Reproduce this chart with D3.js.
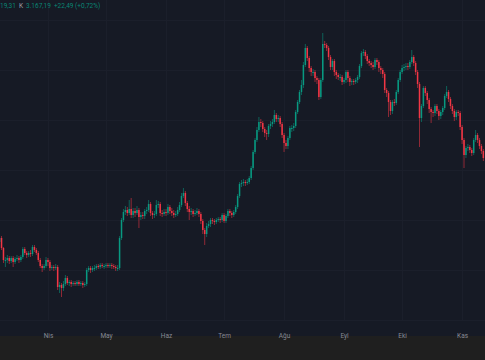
<!DOCTYPE html>
<html><head><meta charset="utf-8">
<script src="https://cdn.jsdelivr.net/npm/d3@7"></script>
<style>html,body{margin:0;padding:0;background:#1f1f1f;overflow:hidden}svg{display:block}</style>
</head><body>
<svg id="chart" width="485" height="360"></svg>
<script>
// ---------------- data ----------------
const startDate = "2024-03-07";
const endDate = "2024-11-13";
const monthTicks = ["2024-04-01","2024-05-01","2024-06-01","2024-07-01","2024-08-01","2024-09-01","2024-10-01","2024-11-01"];
const monthLabels = ["Nis","May","Haz","Tem","Ağu","Eyl","Eki","Kas"];
const firstOpen = 2280;
const closes = [2320,2220,2100,2100,2120,2090,2120,2080,2110,2120,2100,2130,2210,2170,2150,2170,2160,2230,2200,2170,
2100,2040,2020,2040,2100,2080,2020,2030,2020,2030,1830,1850,1820,1860,1920,1870,1880,1860,1870,1860,
1880,1860,1870,1850,1860,2000,2020,2000,2020,2020,2040,2030,2050,2040,2040,2050,2040,2050,2040,2030,
2020,2020,2320,2500,2580,2600,2570,2610,2550,2590,2570,2600,2530,2550,2540,2590,2600,2660,2570,2550,
2560,2650,2660,2570,2560,2580,2570,2630,2590,2570,2550,2560,2600,2650,2740,2770,2670,2610,2580,2590,
2560,2570,2590,2560,2490,2400,2360,2440,2460,2500,2490,2480,2500,2510,2500,2550,2490,2540,2590,2570,
2550,2580,2630,2740,2860,2870,2880,2870,2880,2920,3020,3180,3300,3400,3480,3470,3410,3370,3360,3440,
3460,3480,3550,3510,3520,3460,3350,3270,3240,3320,3420,3420,3440,3580,3680,3780,3850,4050,4220,4120,
4020,3980,3980,3920,3900,3730,3900,4260,4250,4220,4130,4030,4090,3980,3950,3930,3930,3880,3900,3980,
3920,3880,3890,3880,3900,3930,4040,4170,4180,4140,4090,4070,4050,4030,4100,4080,4020,4000,3960,3800,
3770,3680,3590,3680,3670,3780,3900,3980,4020,4030,4040,4030,4080,4130,4070,3980,3860,3520,3640,3820,
3770,3700,3610,3580,3570,3640,3590,3540,3580,3620,3740,3780,3710,3640,3590,3530,3580,3570,3430,3300,
3150,3220,3230,3200,3170,3300,3350,3300,3240,3190,3120];
const highs = [2350,2340,2230,2130,2150,2140,2140,2140,2130,2150,2140,2150,2230,2230,2190,2190,2200,2250,2250,2220,
2190,2120,2060,2060,2130,2120,2100,2050,2050,2060,2050,1880,1870,1890,1950,1940,1900,1900,1890,1890,
1900,1900,1890,1890,1880,2020,2040,2040,2040,2050,2060,2060,2070,2070,2060,2070,2070,2070,2070,2060,
2050,2050,2340,2520,2610,2640,2630,2700,2720,2620,2620,2640,2620,2580,2580,2610,2630,2700,2680,2590,
2590,2700,2690,2680,2600,2610,2610,2660,2650,2620,2600,2590,2630,2680,2770,2820,2790,2690,2640,2620,
2610,2600,2620,2610,2580,2510,2420,2470,2490,2520,2520,2510,2520,2530,2530,2570,2570,2560,2610,2610,
2590,2600,2650,2760,2880,2900,2910,2900,2910,2940,3040,3200,3320,3430,3530,3510,3490,3430,3400,3460,
3490,3510,3600,3570,3550,3540,3480,3370,3300,3340,3440,3450,3470,3600,3700,3800,3900,4080,4260,4240,
4140,4040,4010,4000,3940,3920,3920,4370,4290,4270,4240,4150,4110,4110,4000,3970,3960,3950,3920,4000,
4000,3940,3910,3910,3920,3950,4060,4190,4210,4200,4160,4110,4090,4080,4120,4120,4100,4040,4020,3980,
3820,3790,3700,3700,3710,3800,3920,4000,4050,4060,4070,4070,4100,4200,4150,4090,4000,3880,3660,3840,
3840,3790,3720,3630,3600,3660,3660,3610,3600,3640,3760,3840,3800,3730,3660,3610,3600,3600,3590,3450,
3320,3240,3260,3250,3220,3320,3400,3370,3320,3260,3210];
const lows = [2250,2200,2070,2030,2070,2060,2070,2030,2060,2090,2070,2080,2110,2150,2120,2130,2130,2140,2180,2150,
2080,2020,1980,2000,2020,2040,1990,2000,1990,2000,1800,1770,1730,1790,1840,1850,1840,1830,1840,1840,
1840,1840,1840,1820,1830,1840,1980,1970,1980,1990,2000,2010,2010,2020,2010,2020,2020,2020,2010,2010,
1990,1990,2000,2300,2480,2550,2540,2550,2520,2520,2530,2550,2420,2500,2510,2510,2560,2580,2540,2510,
2520,2540,2620,2540,2530,2540,2540,2550,2560,2540,2520,2530,2540,2580,2630,2720,2640,2580,2500,2550,
2530,2540,2550,2530,2460,2360,2250,2330,2420,2430,2460,2450,2460,2480,2470,2480,2470,2470,2520,2540,
2520,2530,2560,2610,2720,2830,2840,2840,2850,2860,2900,3000,3160,3280,3380,3430,3380,3330,3300,3330,
3410,3430,3460,3480,3480,3430,3320,3180,3210,3210,3300,3380,3390,3420,3560,3660,3750,3820,4030,4090,
3980,3940,3940,3880,3860,3700,3710,3880,4220,4190,4100,4000,4000,3940,3910,3900,3890,3850,3860,3870,
3880,3840,3850,3850,3860,3870,3910,4020,4140,4110,4060,4040,4020,4000,4010,4050,3980,3960,3920,3770,
3730,3530,3550,3560,3640,3650,3760,3880,3960,3990,4000,4000,4010,4060,4040,3950,3820,3230,3480,3620,
3740,3660,3570,3470,3530,3540,3560,3500,3510,3550,3600,3720,3680,3610,3560,3490,3500,3540,3400,3260,
3020,3120,3190,3170,3140,3150,3280,3270,3210,3160,3090];
const legendParts = [
  {t:"19,31", c:"#089981"},
  {t:"K", c:"#b2b5be"},
  {t:"3.167,19", c:"#089981"},
  {t:"+22,49 (+0,72%)", c:"#089981"}
];

// ---------------- layout ----------------
const W = 485, H = 360;
const plotBottom = 320, axisBottom = 336;
const bg = "#161a25", upColor = "#089981", downColor = "#f23645";

const parse = d3.utcParse("%Y-%m-%d");
const dates = d3.utcDay.range(parse(startDate), parse(endDate));
const bars = dates.map((d, i) => ({
  date: d,
  open: i === 0 ? firstOpen : closes[i - 1],
  high: highs[i], low: lows[i], close: closes[i]
}));

const x = d3.scaleUtc().domain([parse(startDate), parse(endDate)]).range([-0.4, 485.3]);
const y = d3.scaleLinear().domain([1340, 4700]).range([336, 0]);

const svg = d3.select("#chart");
svg.append("rect").attr("width", W).attr("height", H).attr("fill", "#1f1f1f");
svg.append("rect").attr("width", W).attr("height", axisBottom).attr("fill", bg);

// grid
const g = svg.append("g");
const tickDates = monthTicks.map(parse);
g.selectAll("line.v").data(tickDates).join("line")
  .attr("x1", d => Math.round(x(d)) + 0.5).attr("x2", d => Math.round(x(d)) + 0.5)
  .attr("y1", 0).attr("y2", plotBottom)
  .attr("stroke", "#1b1f2b").attr("stroke-width", 1);
const hTicks = y.ticks(10);
g.selectAll("line.h").data(hTicks).join("line")
  .attr("x1", 0).attr("x2", W)
  .attr("y1", d => Math.round(y(d)) + 0.5).attr("y2", d => Math.round(y(d)) + 0.5)
  .attr("stroke", "#1b1f2b").attr("stroke-width", 1);

// candles
const bw = 1.5;
const cg = svg.append("g");
cg.selectAll("line.wick").data(bars).join("line")
  .attr("x1", d => x(d.date)).attr("x2", d => x(d.date))
  .attr("y1", d => y(d.high)).attr("y2", d => y(d.low))
  .attr("stroke", d => d.close >= d.open ? upColor : downColor)
  .attr("stroke-opacity", 0.7)
  .attr("stroke-width", 0.8);
cg.selectAll("rect.body").data(bars).join("rect")
  .attr("x", d => x(d.date) - bw / 2)
  .attr("width", bw)
  .attr("y", d => y(Math.max(d.open, d.close)))
  .attr("height", d => Math.max(1, Math.abs(y(d.open) - y(d.close))))
  .attr("fill", d => d.close >= d.open ? upColor : downColor);

// time axis
const axis = d3.axisBottom(x)
  .tickValues(tickDates)
  .tickFormat((d, i) => monthLabels[i])
  .tickSize(0).tickPadding(0);
const ag = svg.append("g").attr("transform", `translate(0,${plotBottom})`).call(axis);
ag.select(".domain").remove();
ag.selectAll("text")
  .attr("y", 13)
  .attr("fill", "#868993")
  .attr("font-family", "Roboto, 'Noto Sans', sans-serif")
  .attr("font-size", 6.5);

// legend
const lt = svg.append("text").attr("x", 0).attr("y", 8)
  .attr("font-family", "Roboto, 'Noto Sans', sans-serif").attr("font-size", 6.5)
  .attr("opacity", 0.85);
legendParts.forEach((p, i) => {
  lt.append("tspan").attr("dx", i === 0 ? 0 : 3).attr("fill", p.c).text(p.t);
});
</script>
</body></html>
